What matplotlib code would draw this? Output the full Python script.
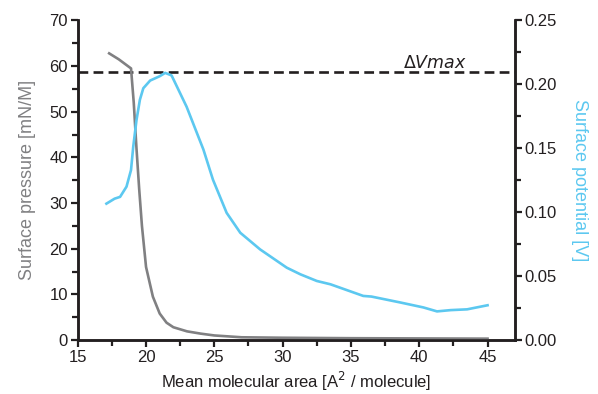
import matplotlib
matplotlib.use('Agg')
import matplotlib.pyplot as plt
from matplotlib.ticker import MultipleLocator

plt.rcParams['font.family'] = ['Liberation Sans', 'DejaVu Sans']

# --- Data ---
# surface pressure isotherm [mN/M]
area_p = [17.3, 18.0, 18.9, 19.1, 19.3, 19.5, 19.7, 20.0, 20.5, 21.0, 21.5,
          22.0, 23.0, 24.0, 25.0, 27.0, 30.0, 35.0, 40.0, 45.0]
pressure = [62.8, 61.5, 59.5, 52.0, 42.0, 33.0, 25.0, 16.0, 9.5, 5.8, 3.8,
            2.8, 1.9, 1.4, 1.0, 0.6, 0.5, 0.4, 0.35, 0.3]

# surface potential [V]
area_v = [17.1, 17.7, 18.1, 18.57, 18.9, 19.06, 19.3, 19.55, 19.8, 20.3, 21.0,
          21.4, 21.87, 22.97, 24.2, 24.9, 25.9, 26.9, 28.35, 30.3, 31.3, 32.5,
          33.5, 35.9, 36.5, 38.6, 40.3, 41.3, 42.3, 43.5, 45.0]
potential = [0.1067, 0.1106, 0.112, 0.120, 0.133, 0.151, 0.172, 0.188, 0.197,
             0.203, 0.2064, 0.209, 0.207, 0.1825, 0.149, 0.1254, 0.0995, 0.0839,
             0.0709, 0.0566, 0.0514, 0.0462, 0.0436, 0.0345, 0.034, 0.0294,
             0.0255, 0.0224, 0.0234, 0.024, 0.0272]

dv_max = 58.7  # dashed level, in surface pressure units

grey = '#808082'
blue = '#5cc8f0'
dark = '#231f20'

fig = plt.figure(figsize=(5.98, 3.94), dpi=100)
ax = fig.add_axes([0.130, 0.137, 0.731, 0.811])
ax2 = ax.twinx()

ax.plot(area_p, pressure, color=grey, lw=1.9, zorder=3)
ax2.plot(area_v, potential, color=blue, lw=1.9, zorder=3)
ax.axhline(dv_max, color=dark, lw=1.9, dashes=(3.7, 2.0), zorder=2)
ax.text(38.8, dv_max + 0.3, r'$\mathit{\Delta Vmax}$', fontsize=12.5,
        ha='left', va='bottom', color=dark)

ax.set_xlim(15, 47)
ax.set_ylim(0, 70)
ax2.set_ylim(0, 0.25)

ax.xaxis.set_major_locator(MultipleLocator(5))
ax.xaxis.set_minor_locator(MultipleLocator(2.5))
ax.yaxis.set_major_locator(MultipleLocator(10))
ax.yaxis.set_minor_locator(MultipleLocator(5))
ax2.yaxis.set_major_locator(MultipleLocator(0.05))
ax2.yaxis.set_minor_locator(MultipleLocator(0.025))
ax2.yaxis.set_major_formatter(lambda v, p: f'{v:.2f}')
ax.set_xticks([15, 20, 25, 30, 35, 40, 45])

for a in (ax, ax2):
    a.spines['top'].set_visible(False)
    for s in ('left', 'right', 'bottom'):
        a.spines[s].set_linewidth(1.8)
        a.spines[s].set_color(dark)
    a.tick_params(which='major', length=5, width=1.6, color=dark,
                  labelsize=12, labelcolor=dark, pad=2)
    a.tick_params(which='minor', length=4, width=1.6, color=dark)

ax.set_xlabel(r'Mean molecular area [A$^2$ / molecule]', fontsize=12, color=dark, labelpad=4)
ax.set_ylabel('Surface pressure [mN/M]', fontsize=13, color=grey, labelpad=10)
ax2.set_ylabel('Surface potential [V]', fontsize=13, color=blue, rotation=270, labelpad=22)

fig.savefig('out.png', dpi=100)
plt.close()
